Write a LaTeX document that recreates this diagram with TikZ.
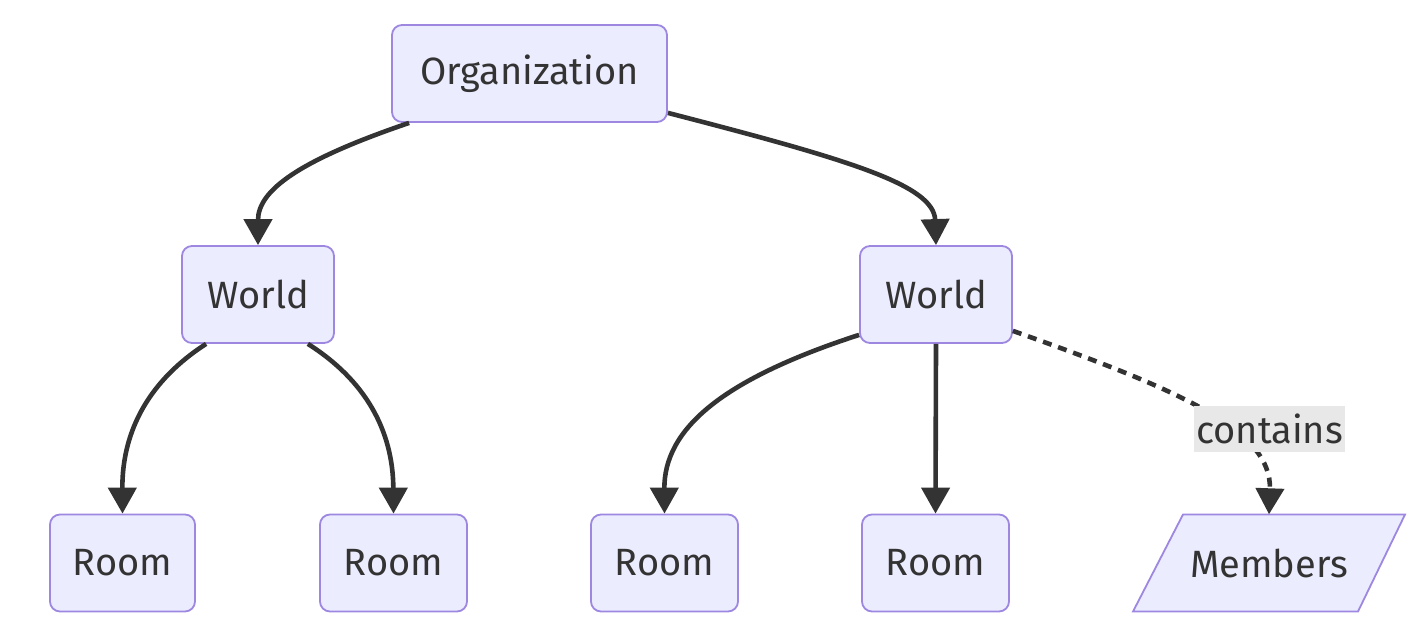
\documentclass[tikz,border=0pt]{standalone}
\usepackage{fontspec}
\setmainfont{Fira Sans}
\usetikzlibrary{arrows.meta,calc}
\definecolor{nodefill}{HTML}{ECECFF}
\definecolor{nodeborder}{HTML}{9D87E0}
\definecolor{txt}{HTML}{333333}
\definecolor{edge}{HTML}{333333}
\definecolor{lblbg}{HTML}{E8E8E8}
\tikzset{
  box/.style={draw=nodeborder, fill=nodefill, line width=1.8pt, rounded corners=10pt,
    minimum height=97pt, text=txt, font=\fontsize{38}{42}\selectfont, inner sep=0pt},
  paratext/.style={minimum height=97pt, minimum width=225pt, text=txt,
    font=\fontsize{38}{42}\selectfont, inner sep=0pt},
  parashape/.style={draw=nodeborder, fill=nodefill, line width=1.8pt},
  conn/.style={draw=edge, line width=4.6pt, -{Triangle[width=28pt,length=26pt]}},
  dconn/.style={conn, dash pattern=on 9pt off 7pt},
  lbl/.style={fill=lblbg, text=txt, font=\fontsize{38}{42}\selectfont, inner sep=2pt,
    minimum width=147pt, minimum height=46pt}
}
\begin{document}
\begin{tikzpicture}[x=1pt,y=-1pt]
\useasboundingbox (0,0) rectangle (1407,617);
\node[box, minimum width=275pt] (org) at (529.5,73.5) {Organization};
\node[box, minimum width=152pt] (wl) at (258,294.5) {World};
\node[box, minimum width=152pt] (wr) at (936,294.5) {World};
\node[box, minimum width=145pt] (r1) at (122.5,563) {Room};
\node[box, minimum width=147pt] (r2) at (393.5,563) {Room};
\node[box, minimum width=147pt] (r3) at (664.5,563) {Room};
\node[box, minimum width=147pt] (r4) at (935.5,563) {Room};
\coordinate (mc) at (1269,563);
\draw[parashape] ($(mc)+(-136,48.5)$) -- ($(mc)+(-86,-48.5)$) -- ($(mc)+(136,-48.5)$) -- ($(mc)+(89,48.5)$) -- cycle;
\node[paratext] (mem) at (mc) {Members};

\draw[conn] ([xshift=18pt]org.south west) .. controls (300,160) and (258,190) .. (wl.north);
\draw[conn] ([yshift=10pt]org.south east) .. controls (850,160) and (934,185) .. (wr.north);
\draw[conn] ([xshift=25pt]wl.south west) .. controls (150,380) and (122,430) .. (r1.north);
\draw[conn] ([xshift=-27pt]wl.south east) .. controls (365,380) and (393,430) .. (r2.north);
\draw[conn] ([yshift=9pt]wr.south west) .. controls (720,380) and (664,430) .. (r3.north);
\draw[conn] (wr.south) -- (r4.north);
\draw[dconn] ([yshift=13pt]wr.south east) .. controls (1180,390) and (1272,430) .. (mem.north);
\node[lbl] (lab) at (1269.5,429) {contains};
\end{tikzpicture}
\end{document}
